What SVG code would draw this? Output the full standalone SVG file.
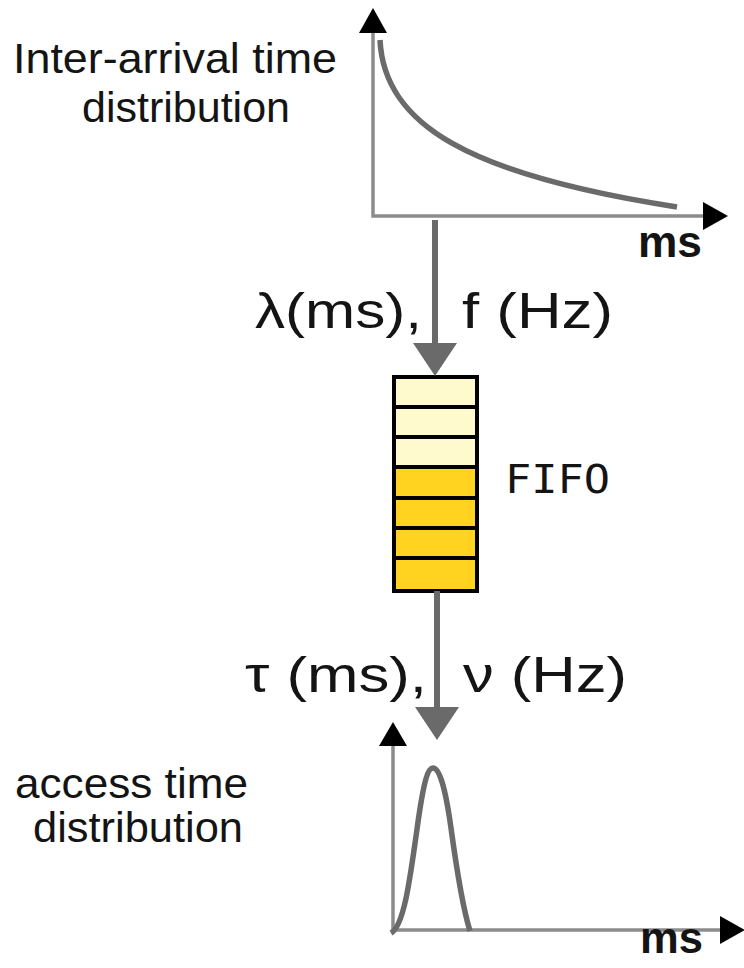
<svg xmlns="http://www.w3.org/2000/svg" width="744" height="968" viewBox="0 0 744 968">
  <style>
    .lbl { font-family: "Liberation Sans", Arial, sans-serif; fill: #141414; }
    .cap { font-size: 42px; }
    .sym { font-size: 50px; }
    .unit { font-size: 44px; font-weight: bold; }
    .mono { font-family: "DejaVu Sans Mono", "Liberation Mono", monospace; font-size: 39px; fill: #141414; }
    .axis { stroke: #8c8c8c; stroke-width: 3.5; fill: none; }
    .curve { stroke: #6a6a6a; stroke-width: 5.5; fill: none; stroke-linecap: butt; }
    .flow { stroke: #6a6a6a; stroke-width: 6; fill: none; }
    .head { fill: #000; }
    .flowhead { fill: #6a6a6a; }
    .cell { stroke: #000; stroke-width: 4; }
    .empty { fill: #fffacd; }
    .full { fill: #ffd320; }
  </style>

  <!-- Inter-arrival time chart -->
  <g id="interarrival-chart">
    <text class="lbl cap" x="13" y="73" textLength="324" lengthAdjust="spacingAndGlyphs">Inter-arrival time</text>
    <text class="lbl cap" x="82" y="122" textLength="208" lengthAdjust="spacingAndGlyphs">distribution</text>
    <polyline class="axis" points="373,30 373,216 704,216"/>
    <polygon class="head" points="373,8 359,33 387,33"/>
    <polygon class="head" points="728,216 703,202 703,230"/>
    <path class="curve" d="M380,40 C384,125 470,175 677,207"/>
    <text class="lbl unit" x="638" y="257" textLength="64" lengthAdjust="spacingAndGlyphs">ms</text>
  </g>

  <!-- FIFO queue -->
  <g id="fifo">
    <rect class="cell empty" x="394" y="377" width="83" height="30"/>
    <rect class="cell empty" x="394" y="407" width="83" height="30"/>
    <rect class="cell empty" x="394" y="437" width="83" height="30"/>
    <rect class="cell full" x="394" y="467" width="83" height="31"/>
    <rect class="cell full" x="394" y="498" width="83" height="30"/>
    <rect class="cell full" x="394" y="528" width="83" height="30"/>
    <rect class="cell full" x="394" y="558" width="83" height="33"/>
    <text class="mono" x="505" y="493" textLength="105" lengthAdjust="spacingAndGlyphs">FIFO</text>
  </g>

  <!-- Access time chart -->
  <g id="access-chart">
    <text class="lbl cap" x="15" y="798" textLength="233" lengthAdjust="spacingAndGlyphs">access time</text>
    <text class="lbl cap" x="33" y="842" textLength="210" lengthAdjust="spacingAndGlyphs">distribution</text>
    <polyline class="axis" points="393,742 393,930 722,930"/>
    <polygon class="head" points="393,722 379,746 407,746"/>
    <polygon class="head" points="745,930 720,916 720,944"/>
    <path class="curve" d="M391,933 C404,926 410,880 418,822 C424,780 428,768 433,768 C439,768 445,785 451,828 C457,872 464,912 470,931"/>
    <text class="lbl unit" x="640" y="953" textLength="63" lengthAdjust="spacingAndGlyphs">ms</text>
  </g>

  <!-- Flow connectors with rate labels -->
  <g id="connectors">
    <line class="flow" x1="435" y1="220" x2="435" y2="345"/>
    <polygon class="flowhead" points="435,376 413,343 457,343"/>
    <text class="lbl sym" x="255" y="328" textLength="167" lengthAdjust="spacingAndGlyphs">λ(ms),</text>
    <text class="lbl sym" x="462" y="328" textLength="151" lengthAdjust="spacingAndGlyphs">f (Hz)</text>

    <line class="flow" x1="437" y1="591" x2="437" y2="709"/>
    <polygon class="flowhead" points="437,740 415,707 459,707"/>
    <text class="lbl sym" x="245" y="692" textLength="182" lengthAdjust="spacingAndGlyphs">τ (ms),</text>
    <text class="lbl sym" x="463" y="692" textLength="164" lengthAdjust="spacingAndGlyphs">ν (Hz)</text>
  </g>
</svg>
